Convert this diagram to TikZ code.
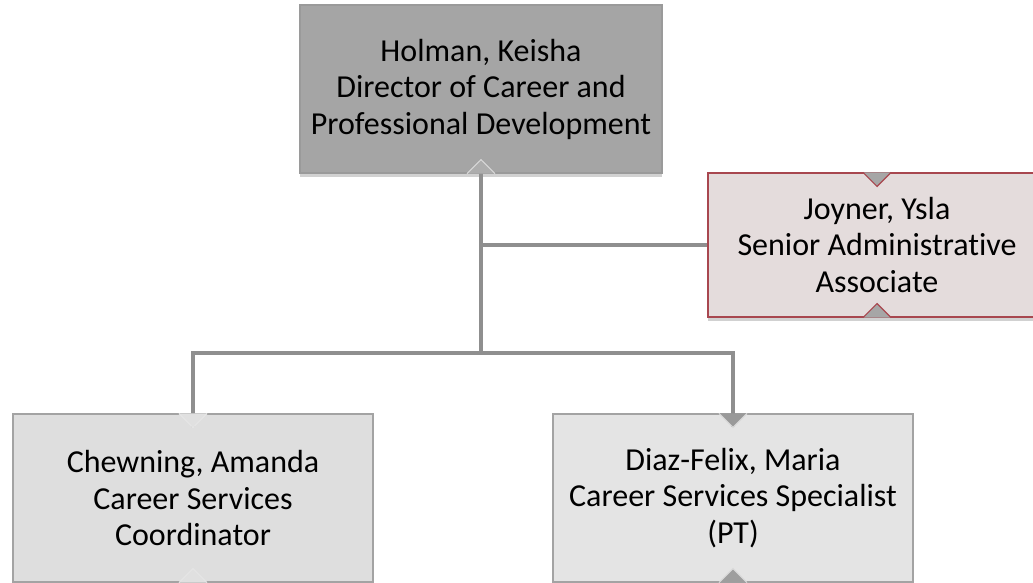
\documentclass[tikz,border=0pt]{standalone}
\usepackage{fontspec}
\setmainfont{Carlito}[Ligatures=NoCommon]
\usepackage{tikz}
\usetikzlibrary{shadows}

\definecolor{dirfill}{HTML}{A5A5A5}
\definecolor{dirline}{HTML}{9A9A9A}
\definecolor{asfill}{HTML}{E4DCDC}
\definecolor{asline}{HTML}{A8474F}
\definecolor{subfill}{HTML}{DEDEDE}
\definecolor{subfillb}{HTML}{E4E4E4}
\definecolor{subline}{HTML}{A3A3A3}
\definecolor{linkgray}{HTML}{8F8F8F}

\begin{document}
\begin{tikzpicture}[x=1pt,y=-1pt,
  box/.style={rectangle, draw, line width=1.2pt, align=center, inner sep=0pt,
    minimum width=362pt, minimum height=168pt,
    font=\fontsize{32}{36.5}\selectfont,
    drop shadow={shadow xshift=0pt, shadow yshift=-4pt, opacity=0.18, fill=black}},
  link/.style={draw=linkgray, line width=3.4pt},
  notch/.style={line width=1.2pt, line join=miter}]
  \path[use as bounding box, clip] (0,0) rectangle (1033,582);
  \node[box, fill=dirfill, draw=dirline] (K) at (481,89)
    {Holman, Keisha\\Director of Career and\\Professional Development};
  \node[box, fill=asfill, draw=asline, minimum width=338pt, minimum height=144pt] (Y) at (877,245)
    {Joyner, Ysla\\Senior Administrative\\Associate};
  \node[box, fill=subfill, draw=subline, minimum width=360pt] (A) at (193,498)
    {Chewning, Amanda\\Career Services\\Coordinator};
  \node[box, fill=subfillb, draw=subline, minimum width=360pt] (M) at (733,498)
    {Diaz-Felix, Maria\\Career Services Specialist\\(PT)};
  \coordinate (Kt) at ([yshift=14pt]K.south);
  \coordinate (At) at ([yshift=-14pt]A.north);
  \coordinate (Mt) at ([yshift=-14pt]M.north);
  \coordinate (bus) at (481,353);
  \draw[link] (Kt) to (bus);
  \draw[link] (At) |- (bus) -| (Mt);
  \draw[link] (Kt |- Y.west) to (Y.west);
  % notches
  \filldraw[notch, fill=black!32, draw=white!85!black] ([xshift=-14pt]K.south) -- (Kt) -- ([xshift=14pt]K.south);
  \filldraw[notch, fill=black!35, draw=asline] ([xshift=-14pt]Y.north) -- ([yshift=-14pt]Y.north) -- ([xshift=14pt]Y.north);
  \filldraw[notch, fill=black!35, draw=asline] ([xshift=-14pt]Y.south) -- ([yshift=14pt]Y.south) -- ([xshift=14pt]Y.south);
  \filldraw[notch, fill=black!12, draw=white!90!black] ([xshift=-14pt]A.north) -- (At) -- ([xshift=14pt]A.north);
  \filldraw[notch, fill=black!12, draw=white!90!black] ([xshift=-14pt]A.south) -- ([yshift=14pt]A.south) -- ([xshift=14pt]A.south);
  \filldraw[notch, fill=black!40, draw=white!85!black] ([xshift=-14pt]M.north) -- (Mt) -- ([xshift=14pt]M.north);
  \filldraw[notch, fill=black!38, draw=white!85!black] ([xshift=-14pt]M.south) -- ([yshift=14pt]M.south) -- ([xshift=14pt]M.south);
\end{tikzpicture}
\end{document}
